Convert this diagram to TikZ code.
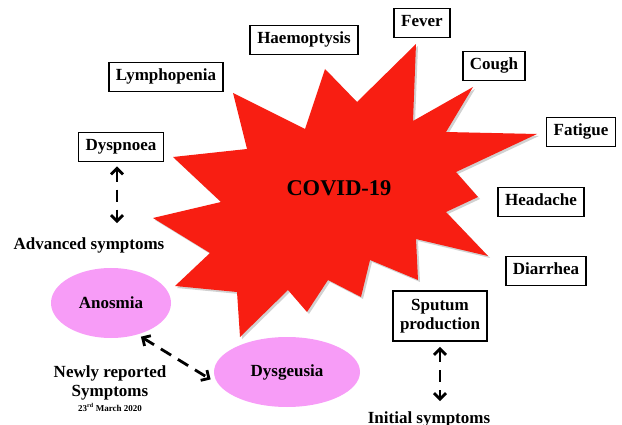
\documentclass[tikz,border=0pt]{standalone}
\usepackage{fontspec}
\setmainfont{Liberation Serif}
\usepackage{xcolor}
\usepackage{tikz}
\usetikzlibrary{arrows.meta,positioning,shapes.geometric}
\definecolor{CovidRed}{HTML}{F81E12}
\definecolor{SymPink}{HTML}{F79CF7}

\begin{document}
\begin{tikzpicture}[
	x=1pt, y=-1pt,
	font=\bfseries\fontsize{17}{19}\selectfont,
	symbox/.style={draw, line width=1.6pt, inner xsep=7pt, inner ysep=3pt, minimum height=29pt, text height=12pt, text depth=4pt},
	blob/.style={ellipse, fill=SymPink, minimum width=120pt, minimum height=70pt},
	caption/.style={inner sep=2pt, align=center},
	dblarrow/.style={{Straight Barb[length=6pt,width=12pt]}-{Straight Barb[length=6pt,width=12pt]}, line width=2.8pt, dash pattern=on 12pt off 8pt}
]
\useasboundingbox (0,0) rectangle (622,425);

\fill[CovidRed, preaction={fill=black!40, opacity=.45, transform canvas={xshift=2pt,yshift=-2pt}}]
	(416,44) -- (413,121) -- (473,87) -- (446,132) -- (537,134) -- (456,172) -- (478,197)
	-- (446,212) -- (488,256) -- (416,239) -- (418,280) -- (370,260) -- (361,297) -- (328,280)
	-- (307,312) -- (288,290) -- (240,337) -- (237,292) -- (175,286) -- (210,253) -- (153,218)
	-- (221,202) -- (173,157) -- (247,149) -- (233,93) -- (305,129) -- (325,69) -- (357,102) -- cycle;
\node (covid) at (339,188) {\fontsize{22.5}{26}\selectfont COVID-19};

\node[symbox] (fever) at (422,23) {Fever};
\node[symbox] (haemo) at (304,40) {Haemoptysis};
\node[symbox] (cough) at (494,66) {Cough};
\node[symbox] (lympho) at (166,77) {Lymphopenia};
\node[symbox] (fatigue) at (581,132) {Fatigue};
\node[symbox] (dysp) at (121,147) {Dyspnoea};
\node[symbox] (headache) at (541,202) {Headache};
\node[symbox] (diarrhea) at (546,271) {Diarrhea};
\node[symbox, align=center, minimum height=50pt, text height=, text depth=] (sputum) at (440,316) {Sputum\\production};

\node[caption] (advanced) at (89,245) {Advanced symptoms};
\node[blob] (anosmia) at (111,303) {Anosmia};
\node[blob, minimum width=146pt] (dysgeusia) at (287,372) {Dysgeusia};
\node[caption] (newly) at (110,383) {Newly reported\\Symptoms};
\node[inner sep=0pt, below=1pt of newly, font=\bfseries\fontsize{9}{10}\selectfont] (date) {23\textsuperscript{rd} March 2020};
\node[caption, anchor=base] (initial) at (429,423) {Initial symptoms};

\draw[dblarrow, shorten <=4pt, shorten >=12pt] ([xshift=-4pt]dysp.south) -- ([xshift=-4pt]dysp.south |- advanced.north);
\draw[dblarrow, shorten <=4pt, shorten >=9pt] (anosmia.-50) -- (dysgeusia.190);
\draw[dblarrow, shorten <=5pt, shorten >=8pt] (sputum.south) -- (sputum.south |- initial.north);
\end{tikzpicture}
\end{document}
